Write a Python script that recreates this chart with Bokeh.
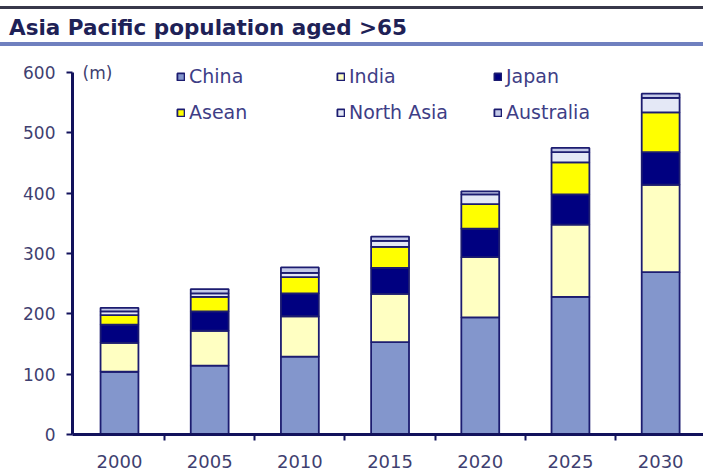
from bokeh.plotting import figure
from bokeh.models import ColumnDataSource, Range1d, FixedTicker, Legend, LegendItem, Label, Div
from bokeh.layouts import column
from bokeh.embed import file_html
from bokeh.resources import INLINE

# ---- data (millions) ----
years = ["2000", "2005", "2010", "2015", "2020", "2025", "2030"]
china = [104, 114, 129, 153, 194, 228, 269]
india = [48, 58, 67, 80, 100, 120, 145]
japan = [30, 32, 38, 43, 47, 50, 54]
asean = [16, 24, 27, 35, 41, 53, 66]
north_asia = [6, 6, 7, 10, 16, 17, 24]
australia = [6, 7, 9, 7, 5, 7, 7]
series_names = ["China", "India", "Japan", "Asean", "North Asia", "Australia"]
y_ticks = [0, 100, 200, 300, 400, 500, 600]

keys = ["china", "india", "japan", "asean", "north_asia", "australia"]
colors = ["#8396cc", "#ffffc2", "#000080", "#ffff00", "#e4e8f6", "#c4cae8"]

x_pos = list(range(len(years)))
source = ColumnDataSource(dict(x=x_pos, china=china, india=india, japan=japan,
                               asean=asean, north_asia=north_asia, australia=australia))

NAVY = "#12125c"
TICK_COL = "#3f3f70"
LEG_COL = "#3e3e86"

p = figure(width=703, height=426, x_range=Range1d(-0.521, 6.475), y_range=Range1d(0, 636.5),
           output_backend="svg", toolbar_location=None,
           min_border_left=72, min_border_right=0, min_border_top=4, min_border_bottom=38,
           background_fill_color="white", border_fill_color="white", outline_line_color=None)
p.margin = 0
p.grid.visible = False

rends = p.vbar_stack(keys, x="x", width=0.42, color=colors, line_color="#1c1c70",
                     line_width=1.8, source=source)

# y axis
ya = p.yaxis[0]
ya.ticker = FixedTicker(ticks=y_ticks)
ya.bounds = (y_ticks[0], y_ticks[-1])
ya.axis_line_width = 3
ya.axis_line_color = NAVY
ya.major_tick_line_color = NAVY
ya.major_tick_line_width = 2
ya.major_tick_out = 6
ya.major_tick_in = 0
ya.minor_tick_out = 0
ya.minor_tick_in = 0
ya.major_label_text_font = "DejaVu Sans"
ya.major_label_text_font_size = "17px"
ya.major_label_text_color = TICK_COL
ya.major_label_standoff = 11

# x axis
xa = p.xaxis[0]
xa.ticker = FixedTicker(ticks=x_pos, minor_ticks=[i + 0.5 for i in x_pos])
xa.major_label_overrides = {i: y for i, y in zip(x_pos, years)}
xa.axis_line_width = 3
xa.axis_line_color = NAVY
xa.major_tick_out = 0
xa.major_tick_in = 0
xa.major_tick_line_color = None
xa.minor_tick_out = 6
xa.minor_tick_in = 0
xa.minor_tick_line_color = NAVY
xa.minor_tick_line_width = 2
xa.major_label_text_font = "DejaVu Sans"
xa.major_label_text_font_size = "18px"
xa.major_label_text_color = TICK_COL
xa.major_label_standoff = 14

# unit label
p.add_layout(Label(x=p.x_range.start, y=y_ticks[-1], x_offset=10, text="(m)",
                   text_baseline="middle", text_font="DejaVu Sans",
                   text_font_size="17px", text_color=TICK_COL))

# legends: three columns of two rows
col_x = [104, 264, 421]
for c in range(3):
    items = [LegendItem(label=series_names[c], renderers=[rends[c]]),
             LegendItem(label=series_names[c + 3], renderers=[rends[c + 3]])]
    lg = Legend(items=items, location=(col_x[c], 311), orientation="vertical",
                padding=0, margin=0, spacing=14, glyph_width=9, glyph_height=9,
                label_standoff=4, label_height=22,
                label_text_font="DejaVu Sans", label_text_font_size="19px",
                label_text_color=LEG_COL, border_line_alpha=0, background_fill_alpha=0)
    p.add_layout(lg)

title = Div(text=('<div style="width:703px;height:46px;box-sizing:border-box;padding-top:6px;">'
                  '<div style="height:30px;border-top:3px solid #38384a;'
                  'border-bottom:4px solid #6f80bf;font-family:\'DejaVu Sans\';font-weight:bold;'
                  'font-size:21.5px;color:#1e2156;line-height:27px;padding-top:3px;padding-left:9px;'
                  'box-sizing:content-box;white-space:nowrap;">'
                  '<span style="position:relative;top:2px;">Asia Pacific population aged &gt;65</span>'
                  '</div></div>'),
            width=703, height=46, margin=0)

layout = column(title, p, spacing=0)
open("out.html", "w").write(file_html(layout, INLINE))
